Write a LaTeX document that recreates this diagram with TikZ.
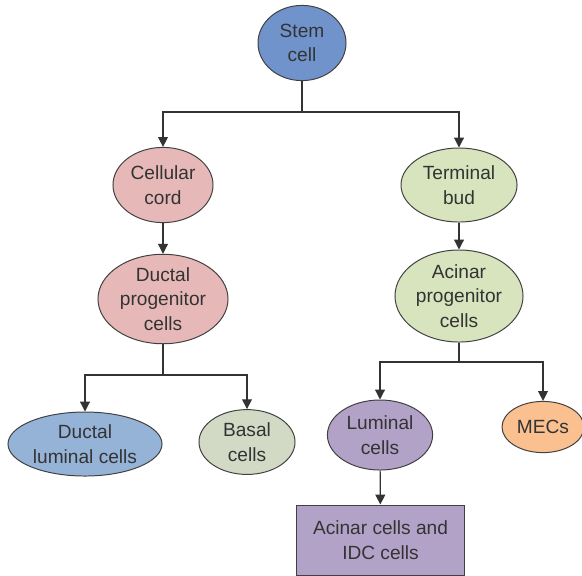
\documentclass[tikz,border=0pt]{standalone}
\usepackage{fontspec}
\setmainfont{Liberation Sans}
\usetikzlibrary{shapes.geometric,arrows.meta}
\definecolor{stemblue}{HTML}{7093CB}
\definecolor{cordpink}{HTML}{E6B9B8}
\definecolor{budgreen}{HTML}{D7E4BD}
\definecolor{lumblue}{HTML}{95B3D7}
\definecolor{basalgray}{HTML}{D2DAC6}
\definecolor{lilac}{HTML}{B3A2C7}
\definecolor{mecorange}{HTML}{FAC090}
\begin{document}
\begin{tikzpicture}[x=0.025cm,y=-0.025cm,
  cellnode/.style={ellipse,draw=black!75,line width=0.7pt,inner sep=0pt,align=center,
    font=\fontsize{13.6}{17.5}\selectfont,text=black!80},
  boxnode/.style={rectangle,draw=black!75,line width=0.7pt,inner sep=0pt,align=center,
    font=\fontsize{13.6}{17.5}\selectfont,text=black!80},
  link/.style={line width=0.8pt,draw=black!80},
  arrow/.style={link,-{Triangle[width=7pt,length=7pt]}}]
\useasboundingbox (0,0) rectangle (582,575);
% top level
\node (stem) [cellnode,fill=stemblue,minimum width=2.2cm,minimum height=1.88cm] at (302,43) {Stem\\cell};
% duct side
\node (cord) [cellnode,fill=cordpink,minimum width=2.5cm,minimum height=1.88cm] at (163,185) {Cellular\\cord};
\node (ductprog) [cellnode,fill=cordpink,minimum width=3.25cm,minimum height=2.1cm] at (163,299) {Ductal\\progenitor\\cells};
\node (ductlum) [cellnode,fill=lumblue,minimum width=3.85cm,minimum height=1.6cm] at (85,444) {Ductal\\luminal cells};
\node (basal) [cellnode,fill=basalgray,minimum width=2.4cm,minimum height=1.62cm] at (247,442) {Basal\\cells};
% acinar side
\node (bud) [cellnode,fill=budgreen,minimum width=2.9cm,minimum height=1.85cm] at (459,185) {Terminal\\bud};
\node (acinprog) [cellnode,fill=budgreen,minimum width=3.2cm,minimum height=2.3cm] at (459,296) {Acinar\\progenitor\\cells};
\node (lumcell) [cellnode,fill=lilac,minimum width=2.63cm,minimum height=1.75cm] at (380,435) {Luminal\\cells};
\node (mecs) [cellnode,fill=mecorange,minimum width=2.05cm,minimum height=1.28cm] at (543,427) {MECs};
\node (acinidc) [boxnode,fill=lilac,minimum width=4.18cm,minimum height=1.75cm] at (380.5,540) {Acinar cells and\\IDC cells};
% connectors
\coordinate (split1) at (302,112);
\coordinate (split2) at (163,375);
\coordinate (split3) at (459,362);
\draw [link] (stem) -- (split1);
\draw [arrow] (split1) -| (cord);
\draw [arrow] (split1) -| (bud);
\draw [arrow] (cord) -- (ductprog);
\draw [link] (ductprog) -- (split2);
\draw [arrow] (split2) -| (ductlum);
\draw [arrow] (split2) -| (basal);
\draw [arrow] (bud) -- (acinprog);
\draw [link] (acinprog) -- (split3);
\draw [arrow] (split3) -| (lumcell);
\draw [arrow] (split3) -| (mecs);
\draw [arrow] (lumcell) -- (acinidc);
\end{tikzpicture}
\end{document}
